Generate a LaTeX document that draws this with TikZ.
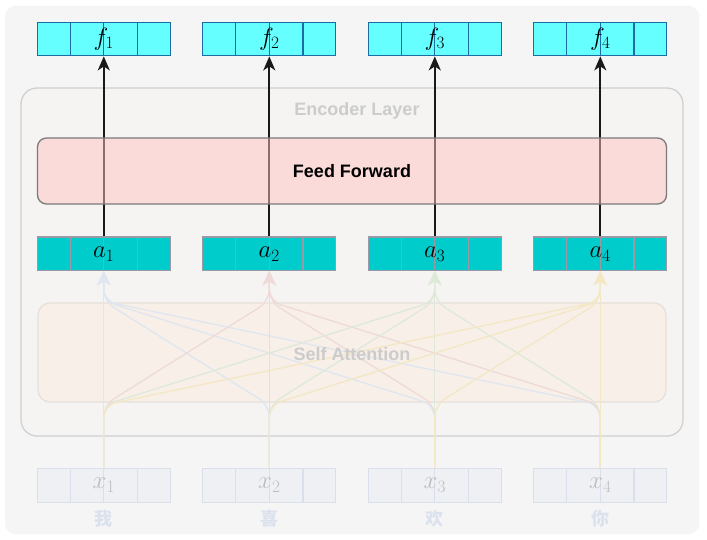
\documentclass[tikz,border=0pt]{standalone}
\usepackage{fontspec}
\setsansfont{Liberation Sans}
\newfontfamily\cjk{Noto Sans CJK SC}
\usetikzlibrary{arrows.meta,calc}
\definecolor{bgc}{HTML}{F5F5F5}
\definecolor{encfill}{HTML}{F5F4F3}
\definecolor{encline}{HTML}{D0D0D0}
\definecolor{ffill}{HTML}{FFC4C1}
\definecolor{ffline}{HTML}{7A7A7A}
\definecolor{ffbox}{HTML}{66FFFF}
\definecolor{ffboxline}{HTML}{1A6EA8}
\definecolor{abox}{HTML}{00CCCC}
\definecolor{aboxline}{HTML}{9A9AA6}
\definecolor{safill}{HTML}{F7EFE8}
\definecolor{saline}{HTML}{E6E0DA}
\definecolor{xfill}{HTML}{EEF0F4}
\definecolor{xline}{HTML}{D9E0EB}
\definecolor{xtext}{HTML}{BDBDBD}
\definecolor{cjktext}{HTML}{DBE2ED}
\definecolor{graytext}{HTML}{CCCCCC}
\definecolor{eA}{HTML}{E0E6EF}
\definecolor{eB}{HTML}{EFDAD8}
\definecolor{eC}{HTML}{DFE9DA}
\definecolor{eD}{HTML}{F4E7C4}
\tikzset{
  vecbox/.style={minimum width=133pt, minimum height=33.5pt, inner sep=0pt, line width=1.3pt},
  fbox/.style={vecbox, fill=ffbox, draw=ffboxline},
  abx/.style={vecbox, fill=abox, draw=aboxline},
  xbx/.style={vecbox, fill=xfill, draw=xline},
  mlabel/.style={font=\fontsize{24}{26}\selectfont},
  slabel/.style={font=\sffamily\bfseries\fontsize{18}{20}\selectfont},
  blackarrow/.style={draw=black!90, line width=1.8pt, -{Stealth[length=14pt,width=12pt,inset=4pt]}},
  fadeedge/.style={line width=1.3pt, rounded corners=12pt, -{Stealth[length=14pt,width=13pt,inset=4pt]}},
}
\begin{document}
\begin{tikzpicture}[x=1pt,y=-1pt]
\useasboundingbox (0,0) rectangle (707,540);
\fill[white] (0,0) rectangle (707,540);
\fill[bgc, rounded corners=10pt] (5,6) rectangle (699,534);
% encoder layer container
\node[draw=encline, fill=encfill, line width=1.3pt, rounded corners=16pt, minimum width=662pt, minimum height=348pt] (enc) at (352,262) {};
\node[slabel, text=graytext] (enctitle) at (357,111) {Encoder Layer};
% self attention box
\node[draw=saline, fill=safill, line width=1.3pt, rounded corners=12pt, minimum width=628pt, minimum height=99pt] (sa) at (352,352.5) {};
% vector boxes
\foreach \i/\xx in {1/103.8,2/269.3,3/434.8,4/600.3}{
  \node[fbox] (f\i) at (\xx,39) {};
  \node[abx] (a\i) at (\xx,253.8) {};
  \node[xbx] (x\i) at (\xx,485.5) {};
  \foreach \k in {0.25,0.5,0.75}{
    \draw[ffboxline, line width=1.3pt] ($(f\i.south west)!\k!(f\i.south east)$) -- ($(f\i.north west)!\k!(f\i.north east)$);
    \draw[aboxline, line width=1.3pt] ($(a\i.south west)!\k!(a\i.south east)$) -- ($(a\i.north west)!\k!(a\i.north east)$);
    \draw[xline, line width=1.3pt] ($(x\i.south west)!\k!(x\i.south east)$) -- ($(x\i.north west)!\k!(x\i.north east)$);
  }
  \node[mlabel] (fl\i) at (f\i.center) {$f_{\i}$};
  \node[mlabel] (al\i) at (a\i.center) {$a_{\i}$};
  \node[mlabel, text=xtext] (xl\i) at (x\i.center) {$x_{\i}$};
}
\node[text=cjktext, font=\cjk\bfseries\fontsize{18}{20}\selectfont] (w1) at (103.8,519) {我};
\node[text=cjktext, font=\cjk\bfseries\fontsize{18}{20}\selectfont] (w2) at (269.3,519) {喜};
\node[text=cjktext, font=\cjk\bfseries\fontsize{18}{20}\selectfont] (w3) at (434.8,519) {欢};
\node[text=cjktext, font=\cjk\bfseries\fontsize{18}{20}\selectfont] (w4) at (600.3,519) {你};
% faded attention edges
\foreach \j/\c in {1/eA,2/eB,3/eC,4/eD}{
  \foreach \i in {1,2,3,4}{
    \draw[fadeedge, draw=\c, \c] (x\i.north) -- ($(x\i.north)+(0,-63)$) -- ($(a\j.south)+(0,30)$) -- (a\j.south);
  }
}
\node[slabel, text=graytext] (satitle) at (352,354) {Self Attention};
% black arrows
\foreach \i in {1,2,3,4}{
  \draw[blackarrow] (a\i.north) -- (f\i.south);
}
% feed forward box, translucent over arrows
\node[draw=ffline, fill=ffill, fill opacity=0.5, line width=1.3pt, rounded corners=9pt, minimum width=629pt, minimum height=66pt] (ff) at (352,171) {};
\node[slabel] (fftitle) at (352,171) {Feed Forward};
\end{tikzpicture}
\end{document}
